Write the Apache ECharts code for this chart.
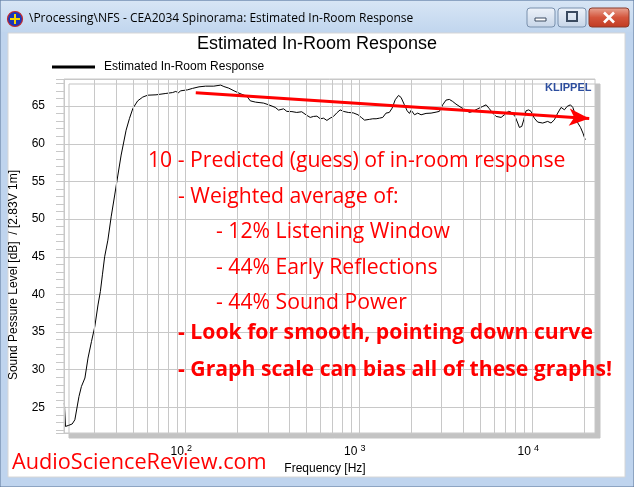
<!DOCTYPE html>
<html><head><meta charset="utf-8">
<script src="https://cdn.jsdelivr.net/npm/echarts@6/dist/echarts.min.js"></script>
<style>html,body{margin:0;padding:0;background:#bfd4ee}#c{width:634px;height:487px}</style>
</head><body><div id="c"></div>
<script>
// ---- data ----
const freqHz = [20.1, 20.4, 21.2, 22.3, 23.1, 24.4, 25.2, 26.4, 27.5, 28.8, 30.1, 31.4, 32.4, 33.3, 34.3, 35.8, 37.4, 39.2, 40.9, 42.7, 45.6, 47.7, 49.9, 53.2, 56.9, 60.7, 67.8, 77.3, 84.5, 88.2, 91.1, 94.2, 103, 110, 120, 131, 146, 160, 167, 178, 191, 204, 227, 237, 254, 283, 303, 330, 345, 369, 385, 412, 439, 469, 502, 525, 549, 574, 600, 627, 655, 684, 715, 747, 781, 816, 870, 930, 990, 1034, 1080, 1153, 1205, 1259, 1316, 1375, 1436, 1500, 1557, 1622, 1695, 1754, 1833, 1901, 1960, 2005, 2095, 2188, 2287, 2443, 2611, 2790, 2915, 3047, 3185, 3328, 3478, 3634, 3885, 4153, 4341, 4538, 4851, 5187, 5420, 5665, 5922, 6189, 6614, 6914, 7288, 7553, 7961, 8250, 8430, 8700, 8934, 9210, 9540, 9840, 10280, 10750, 11490, 12280, 12830, 13410, 14020, 14660, 15330, 15890, 16600, 17130, 17670, 18320, 18970, 19600, 20200];
const splDb = [25.57, 22.47, 22.6, 22.8, 23.35, 26.45, 27.77, 28.9, 31.54, 33.74, 35.73, 38.6, 40.37, 42.6, 45.0, 47.2, 50.3, 53.2, 55.85, 58.5, 61.8, 63.37, 64.7, 65.7, 66.2, 66.45, 66.5, 66.68, 66.8, 66.95, 66.77, 67.03, 67.16, 67.35, 67.56, 67.65, 67.65, 67.79, 67.6, 67.39, 67.03, 66.72, 66.29, 65.7, 65.53, 65.4, 65.17, 64.83, 64.47, 64.64, 64.3, 64.27, 64.16, 64.25, 63.77, 63.5, 63.63, 63.67, 63.32, 63.4, 63.1, 63.4, 63.63, 64.1, 64.5, 64.3, 64.16, 64.1, 63.85, 63.5, 63.14, 63.24, 63.32, 63.32, 63.4, 63.5, 64.07, 64.16, 64.73, 65.84, 66.42, 66.15, 65.17, 64.38, 64.03, 64.47, 63.85, 64.07, 63.85, 64.03, 64.07, 64.2, 64.3, 65.17, 65.8, 65.89, 65.62, 65.27, 64.83, 64.47, 64.16, 64.3, 64.64, 64.96, 65.17, 64.64, 64.07, 63.63, 63.5, 63.85, 64.3, 64.2, 63.63, 62.75, 62.17, 62.3, 63.18, 64.38, 64.5, 64.3, 63.4, 62.88, 62.75, 62.97, 62.75, 63.18, 64.07, 64.83, 64.51, 64.96, 65.17, 64.83, 63.94, 62.75, 62.18, 61.42, 60.53];
const gridFreqs = [20, 30, 40, 50, 60, 70, 80, 90, 100, 200, 300, 400, 500, 600, 700, 800, 900, 1000, 2000, 3000, 4000, 5000, 6000, 7000, 8000, 9000, 10000, 20000];
const trendStart = [115, 66.76];
const trendEnd = [21300, 63.37];
const seriesName = 'Estimated In-Room Response';
const chartTitle = 'Estimated In-Room Response';
const windowTitle = '\\Processing\\NFS - CEA2034 Spinorama: Estimated In-Room Response';
const yName = 'Sound Pessure Level [dB]  / [2.83V 1m]';
const xName = 'Frequency [Hz]';
const notes = [
  {t: '10 - Predicted (guess) of in-room response', x: 148, y: 161, b: false},
  {t: '- Weighted average of:', x: 178, y: 197, b: false},
  {t: '- 12% Listening Window', x: 216, y: 232, b: false},
  {t: '- 44% Early Reflections', x: 216, y: 268, b: false},
  {t: '- 44% Sound Power', x: 216, y: 303, b: false},
  {t: '- Look for smooth, pointing down curve', x: 178, y: 333, b: true},
  {t: '- Graph scale can bias all of these graphs!', x: 178, y: 370, b: true}
];

const chart = echarts.init(document.getElementById('c'), null, {renderer: 'canvas'});
const AR = '"Liberation Sans", Arial, sans-serif';
const OS = '"Open Sans", sans-serif';

const supMap = {2: '2', 3: '3', 4: '4'};
const graphics = [
  {type: 'rect', z: -20, shape: {x: 0, y: 0, width: 634, height: 487}, style: {fill: '#bfd4ee', stroke: '#5b7597', lineWidth: 1}},
  {type: 'rect', z: -19, shape: {x: 1, y: 1, width: 632, height: 31}, style: {fill: new echarts.graphic.LinearGradient(0, 0, 0, 1, [{offset: 0, color: '#d7e5f5'}, {offset: 1, color: '#c1d6ee'}])}},
  {type: 'rect', z: -18, shape: {x: 8, y: 33, width: 617, height: 444}, style: {fill: '#ffffff', stroke: '#d6d6d6', lineWidth: 1}},
  {type: 'circle', shape: {cx: 15, cy: 19, r: 7.5}, style: {fill: '#1c38b8', stroke: '#c42a2a', lineWidth: 1.2}},
  {type: 'line', shape: {x1: 10, y1: 19, x2: 20, y2: 19}, style: {stroke: '#f5d800', lineWidth: 2}},
  {type: 'line', shape: {x1: 15, y1: 14, x2: 15, y2: 24}, style: {stroke: '#f5d800', lineWidth: 2}},
  {type: 'text', style: {text: windowTitle, x: 29, y: 19, fill: '#000', fontSize: 12, fontFamily: OS, verticalAlign: 'middle'}},
  {type: 'rect', shape: {x: 527, y: 8, width: 28, height: 19, r: 3}, style: {fill: new echarts.graphic.LinearGradient(0, 0, 0, 1, [{offset: 0, color: '#eef3fa'}, {offset: 1, color: '#c6d5e8'}]), stroke: '#7990ad'}},
  {type: 'rect', shape: {x: 535, y: 18, width: 11, height: 3}, style: {fill: '#fff', stroke: '#3a4a60', lineWidth: 1}},
  {type: 'rect', shape: {x: 558, y: 8, width: 28, height: 19, r: 3}, style: {fill: new echarts.graphic.LinearGradient(0, 0, 0, 1, [{offset: 0, color: '#eef3fa'}, {offset: 1, color: '#c6d5e8'}]), stroke: '#7990ad'}},
  {type: 'rect', shape: {x: 567, y: 12, width: 10, height: 9}, style: {fill: 'none', stroke: '#3a4a60', lineWidth: 2}},
  {type: 'rect', shape: {x: 589, y: 8, width: 40, height: 19, r: 3}, style: {fill: new echarts.graphic.LinearGradient(0, 0, 0, 1, [{offset: 0, color: '#e9a796'}, {offset: 0.5, color: '#d4553c'}, {offset: 1, color: '#c03a22'}]), stroke: '#8a3a2a'}},
  {type: 'line', shape: {x1: 604, y1: 12.5, x2: 614, y2: 22.5}, style: {stroke: '#fff', lineWidth: 2.6}},
  {type: 'line', shape: {x1: 614, y1: 12.5, x2: 604, y2: 22.5}, style: {stroke: '#fff', lineWidth: 2.6}},
  {type: 'text', style: {text: 'KLIPPEL', x: 545, y: 88, fill: '#2c4d9e', fontSize: 11, fontWeight: 'bold', fontFamily: AR, verticalAlign: 'middle'}},
  {type: 'text', style: {text: 'AudioScienceReview.com', x: 12, y: 463, fill: '#ff0000', fontSize: 21.7, fontFamily: OS, verticalAlign: 'middle'}}
];
notes.forEach(n => graphics.push({type: 'text', z: 10, style: {text: n.t, x: n.x, y: n.y, fill: '#ff0000', fontSize: 21.2, fontWeight: n.b ? 'bold' : 'normal', fontFamily: OS, verticalAlign: 'middle'}}));

const option = {
  animation: false,
  backgroundColor: '#bfd4ee',
  title: {text: chartTitle, left: 'center', top: 35, padding: 0, textStyle: {fontSize: 18, fontWeight: 'normal', color: '#000', fontFamily: AR}},
  legend: {data: [seriesName], left: 52, top: 61, padding: 0, icon: 'rect', itemWidth: 43, itemHeight: 3, itemGap: 10, textStyle: {fontSize: 12, color: '#000', fontFamily: AR, padding: [0, 0, 0, 4]}},
  grid: {left: 60, top: 79, right: 39, bottom: 54, show: true, backgroundColor: '#fff', borderColor: '#c8c8c8', borderWidth: 1, shadowColor: '#c3c3c3', shadowOffsetX: 5, shadowOffsetY: 5, shadowBlur: 0},
  xAxis: {
    type: 'log', logBase: 10, min: 20, max: 23000,
    name: xName, nameLocation: 'middle', nameGap: 26,
    nameTextStyle: {fontSize: 12, color: '#000', fontFamily: AR, padding: [0, 9, 0, 0]},
    axisLine: {show: false}, axisTick: {show: false}, splitLine: {show: false},
    axisLabel: {
      margin: 11, padding: [0, 8, 0, 0], color: '#000', fontFamily: AR, fontSize: 12,
      formatter: v => {
        const e = Math.log10(v), r = Math.round(e);
        if (Math.abs(e - r) > 1e-6 || r < 2 || r > 4) return '';
        return '{b|10}{s|' + supMap[r] + '}';
      },
      rich: {b: {fontSize: 12, fontFamily: AR, color: '#000'}, s: {fontSize: 9, fontFamily: AR, color: '#000', verticalAlign: 'bottom', padding: [0, 0, 7, 3]}}
    }
  },
  yAxis: [{
    type: 'value', min: 21.6, max: 68.6, minInterval: 5, maxInterval: 5,
    name: yName, nameLocation: 'middle', nameGap: 44, nameRotate: 90,
    nameTextStyle: {fontSize: 12, color: '#000', fontFamily: AR, padding: [0, 38, 0, 0]},
    axisLine: {show: false}, axisTick: {show: false},
    splitLine: {show: true, lineStyle: {color: '#c8c8c8', width: 1}},
    axisLabel: {margin: 19, color: '#000', fontFamily: AR, fontSize: 12, formatter: v => (Math.abs(v % 5) < 1e-6 ? String(v) : '')}
  }, {
    type: 'value', min: 21.6, max: 68.6, minInterval: 1, maxInterval: 1, position: 'left',
    axisLine: {show: false}, axisLabel: {show: false}, splitLine: {show: false},
    axisTick: {show: true, length: 8, lineStyle: {color: '#c8c8c8', width: 1}}
  }],
  series: [
    {
      name: 'grid', type: 'line', data: [], z: 1, silent: true,
      markLine: {silent: true, symbol: ['none', 'none'], label: {show: false}, animation: false,
        lineStyle: {color: '#c8c8c8', width: 1, type: 'solid'},
        data: gridFreqs.map(f => ({xAxis: f}))}
    },
    {
      name: seriesName, type: 'line', z: 3, showSymbol: false, symbol: 'none', color: '#000',
      lineStyle: {color: '#000', width: 1},
      data: freqHz.map((f, i) => [f, splDb[i]])
    },
    {
      name: 'trend', type: 'line', data: [], z: 5, silent: true,
      markLine: {silent: true, symbol: ['none', 'arrow'], symbolSize: [13, 20], label: {show: false}, animation: false,
        lineStyle: {color: '#ff0000', width: 3, type: 'solid'},
        data: [[{coord: trendStart}, {coord: trendEnd}]]}
    }
  ],
  graphic: graphics
};
chart.setOption(option);
</script></body></html>
